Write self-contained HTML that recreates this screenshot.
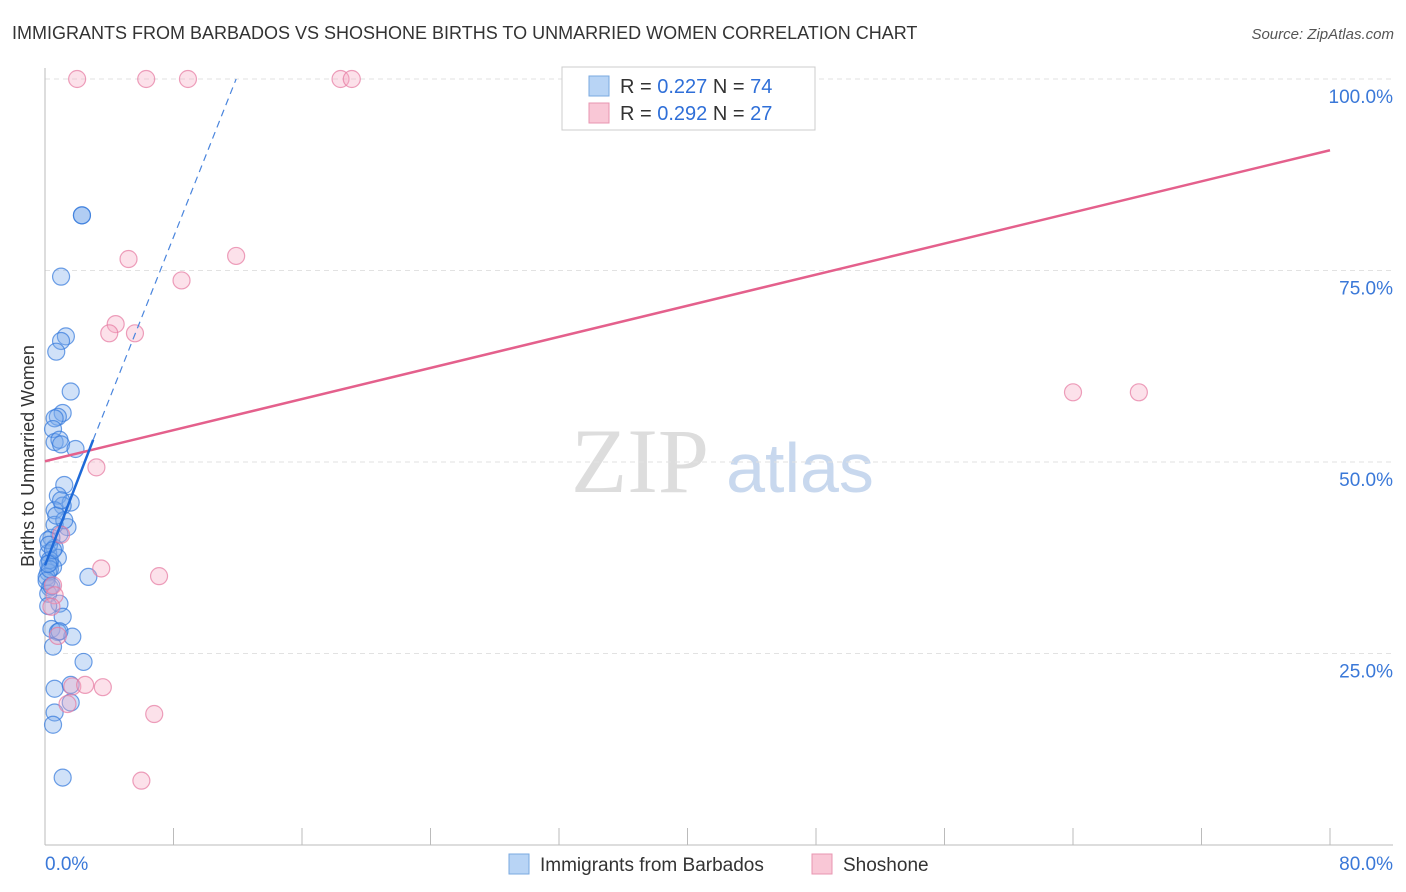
<!DOCTYPE html>
<html><head><meta charset="utf-8"><style>
body{margin:0;background:#fff;font-family:"Liberation Sans",sans-serif}
#wrap{position:relative;width:1406px;height:892px;overflow:hidden}
</style></head><body><div id="wrap">
<svg id="svg" width="1406" height="892" xmlns="http://www.w3.org/2000/svg">
<text x="12" y="39" font-size="18" fill="#333">IMMIGRANTS FROM BARBADOS VS SHOSHONE BIRTHS TO UNMARRIED WOMEN CORRELATION CHART</text>
<text x="1394" y="39" font-size="15" fill="#555" font-style="italic" text-anchor="end">Source: ZipAtlas.com</text>
<text x="640" y="492" font-size="92" fill="#ddd" font-family="Liberation Serif" text-anchor="middle">ZIP</text>
<text x="800" y="492" font-size="70" fill="#c8d8ee" text-anchor="middle">atlas</text>
<text transform="translate(34,456) rotate(-90)" font-size="18" fill="#333" text-anchor="middle">Births to Unmarried Women</text>
<g id="grid"></g><g id="pts"></g><g id="lines"></g>
<rect x="562" y="67" width="253" height="63" fill="#fff" stroke="#ccc"/>
<rect x="589" y="76" width="20" height="20" fill="#b8d4f5" stroke="#7aaae0"/>
<rect x="589" y="103" width="20" height="20" fill="#f9c7d6" stroke="#e896b0"/>
<text x="620" y="93" font-size="20" fill="#333">R = <tspan fill="#2f6fd8">0.227</tspan>   N = <tspan fill="#2f6fd8">74</tspan></text>
<text x="620" y="120" font-size="20" fill="#333">R = <tspan fill="#2f6fd8">0.292</tspan>   N = <tspan fill="#2f6fd8">27</tspan></text>
<rect x="509" y="854" width="20" height="20" fill="#b8d4f5" stroke="#7aaae0"/>
<text x="540" y="871" font-size="19" fill="#333">Immigrants from Barbados</text>
<rect x="812" y="854" width="20" height="20" fill="#f9c7d6" stroke="#e896b0"/>
<text x="843" y="871" font-size="19" fill="#333">Shoshone</text>
</svg>
<script>
const xTicks=[0,8,16,24,32,40,48,56,64,72,80];
const yTicks=[25,50,75,100];
const blueX=[2.3,2.3,1.0,1.3,1.0,0.7,1.6,1.1,0.8,0.6,0.5,0.6,0.9,1.0,1.9,1.2,0.8,1.6,1.1,0.6,1.4,0.9,0.4,0.6,0.2,0.8,0.3,0.5,0.2,0.1,2.7,0.3,0.2,0.9,0.2,1.1,0.4,0.8,1.7,0.5,2.4,0.6,1.6,1.6,0.6,0.5,1.1,0.9,0.2,0.6,1.2,0.25,0.3,0.1,0.4,0.3,0.5,0.7,1.0,0.2];
const blueY=[82.2,82.2,74.2,66.4,65.8,64.4,59.2,56.4,55.9,55.7,54.3,52.6,52.9,52.3,51.7,47,45.6,44.7,44.3,43.7,41.5,40.6,40.1,38.8,38.1,37.5,36.8,36.3,35.6,35,35,33.6,32.8,31.5,31.2,29.8,28.2,27.8,27.2,25.9,23.9,20.4,20.9,18.6,17.3,15.7,8.8,27.9,39.8,41.8,42.4,39.2,37.2,34.5,33.8,36,38.5,43,45,36.7];
const pinkX=[2.0,6.3,8.9,18.4,19.1,42.0,5.2,11.9,8.5,4.4,4.0,5.6,3.2,3.5,7.1,0.5,0.6,0.4,0.8,1.7,2.5,3.6,6.8,6.0,64.0,68.1,1.4,1.0];
const pinkY=[100,100,100,100,100,100,76.5,76.9,73.7,68,66.8,66.8,49.3,36.1,35.1,33.9,32.6,31.1,27.3,20.7,20.9,20.6,17.1,8.4,59.1,59.1,18.4,40.5];
const pinkTrend=[50.1,90.7];
const blueTrend=[36.5,52.9,100];
const X=v=>45+v/80*1285, Y=v=>845-v/100*766;
const NS='http://www.w3.org/2000/svg';
function mk(t,a,p){const e=document.createElementNS(NS,t);for(const k in a)e.setAttribute(k,a[k]);p.appendChild(e);return e;}
const g=document.getElementById('grid');
yTicks.forEach(v=>{
 const l=mk('line',{x1:45,x2:1393,y1:Y(v),y2:Y(v),stroke:'#e2e2e2','stroke-dasharray':'5,4'},g);
 
 
 const t=mk('text',{x:1393,y:Y(v)+24,'font-size':19,fill:'#3a78d8','text-anchor':'end'},g);t.textContent=v.toFixed(1)+'%';
 
 
});
const ax=mk('line',{x1:45,x2:45,y1:68,y2:845,stroke:'#bbb'},g);


const bx=mk('line',{x1:45,x2:1393,y1:845,y2:845,stroke:'#bbb'},g);


xTicks.forEach(v=>{
 const l=mk('line',{x1:X(v),x2:X(v),y1:828,y2:845,stroke:'#bbb'},g);
 
 
});
[[0,45,'start'],[80,1393,'end']].forEach(([v,x,a])=>{
 const t=mk('text',{x:x,y:870,'font-size':19,fill:'#3a78d8','text-anchor':a},g);t.textContent=v.toFixed(1)+'%';
 
 
});
const p=document.getElementById('pts');
blueX.forEach((v,i)=>{
 const c=mk('circle',{cx:X(v),cy:Y(blueY[i]),r:8.5,fill:'rgba(120,170,235,0.35)',stroke:'rgba(50,120,220,0.7)','stroke-width':1.2},p);
 
 
});
pinkX.forEach((v,i)=>{
 const c=mk('circle',{cx:X(v),cy:Y(pinkY[i]),r:8.5,fill:'rgba(245,170,195,0.35)',stroke:'rgba(230,120,160,0.7)','stroke-width':1.2},p);
 
 
});
const L=document.getElementById('lines');
const pl=mk('line',{x1:X(0),y1:Y(pinkTrend[0]),x2:X(80),y2:Y(pinkTrend[1]),stroke:'#e4608c','stroke-width':2.5},L);


const bs=mk('line',{x1:X(0),y1:Y(blueTrend[0]),x2:X(3),y2:Y(blueTrend[1]),stroke:'#1f6ad8','stroke-width':2.5},L);


const bd=mk('line',{x1:X(3),y1:Y(blueTrend[1]),x2:X(11.9),y2:Y(blueTrend[2]),stroke:'#4a85dd','stroke-width':1.2,'stroke-dasharray':'7,5'},L);


</script></div></body></html>
